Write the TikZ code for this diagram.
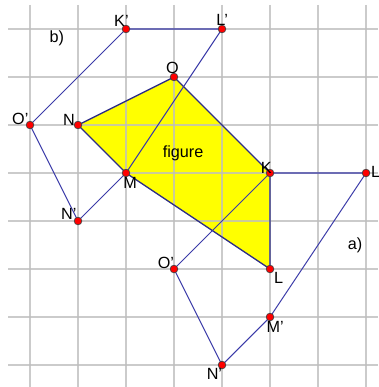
\documentclass[tikz,border=0pt]{standalone}
\usepackage{fontspec}
\setmainfont{Liberation Sans}
\usetikzlibrary{positioning}
\definecolor{GridGray}{HTML}{BEBEBE}
\definecolor{LineBlue}{HTML}{3A3AA8}
\definecolor{FigEdge}{HTML}{2E2E86}
\definecolor{FigYellow}{HTML}{FFFF00}

\begin{document}
\begin{tikzpicture}[
        x=1cm, y=-1cm,
        font=\fontsize{9.6}{10}\selectfont,
        gridline/.style={draw=GridGray, line width=0.9pt, opacity=0.8},
        edge/.style={draw=LineBlue, line width=0.6pt},
        figedge/.style={draw=FigEdge, line width=0.8pt},
        dot/.style={circle, fill=red, draw=black!75, line width=0.4pt,
          inner sep=0pt, minimum size=1.6mm},
        lbl/.style={inner sep=0.5pt}
      ]
        \useasboundingbox (-0.625,-0.604) rectangle (7.25,7.458);
        \fill[white] (-0.625,-0.604) rectangle (7.25,7.458);
        % points of the figure and of its two images
        \coordinate (N) at (1,2);
        \coordinate (O) at (3,1);
        \coordinate (K) at (5,3);
        \coordinate (L) at (5,5);
        \coordinate (M) at (2,3);
        \coordinate (Kb) at (2,0);
        \coordinate (Lb) at (4,0);
        \coordinate (Nb) at (1,4);
        \coordinate (Ob) at (0,2);
        \coordinate (La) at (7,3);
        \coordinate (Ma) at (5,6);
        \coordinate (Na) at (4,7);
        \coordinate (Oa) at (3,5);
        % figure
        \fill[FigYellow] (N) -- (O) -- (K) -- (L) -- (M) -- cycle;
        % grid
        \foreach \i in {0,...,7} {
          \draw[gridline] (\i,-0.5) -- (\i,7.458);
          \draw[gridline] (-0.458,\i) -- (7.25,\i);
        }
        \draw[figedge] (N) -- (O) -- (K) -- (L) -- (M) -- cycle;
        % image b)
        \draw[edge] (Kb) -- (Lb) -- (M) -- (Nb) -- (Ob) -- cycle;
        % image a)
        \draw[edge] (K) -- (La) -- (Ma) -- (Na) -- (Oa) -- cycle;
        % dots
        \foreach \p in {N,O,K,L,M,Kb,Lb,Nb,Ob,La,Ma,Na,Oa}
          \node[dot] (d\p) at (\p) {};
        % labels
        \node[lbl, above left=-1pt and -4pt of dKb] (lKb) {K'};
        \node[lbl, above left=-0.5pt and -6pt of dLb] (lLb) {L'};
        \node[lbl, above=-1pt of dO, xshift=-1pt] (lO) {O};
        \node[lbl, above left=-2.5pt and -1.5pt of dOb] (lOb) {O'};
        \node[lbl, above left=-2.5pt and -0.5pt of dN] (lN) {N};
        \node[lbl, below=-0.5pt of dM, xshift=2.5pt] (lM) {M};
        \node[lbl, above left=-1.5pt and -1.5pt of dNb] (lNb) {N'};
        \node[lbl, above left=-2.5pt and -3.5pt of dK] (lK) {K};
        \node[lbl, above right=-5pt and 0.5pt of dLa] (lLa) {L'};
        \node[lbl, below right=-0.5pt and 0pt of dL] (lL) {L};
        \node[lbl, above left=-2.5pt and -2.5pt of dOa] (lOa) {O'};
        \node[lbl, below=-0.5pt of dMa, xshift=3pt] (lMa) {M'};
        \node[lbl, below left=-0.5pt and -2.5pt of dNa] (lNa) {N'};
        \node[lbl] (fig) at (3.19,2.6) {figure};
        \node[lbl] (ta) at (6.77,4.5) {a)};
        \node[lbl] (tb) at (0.56,0.19) {b)};
      \end{tikzpicture}
\end{document}
